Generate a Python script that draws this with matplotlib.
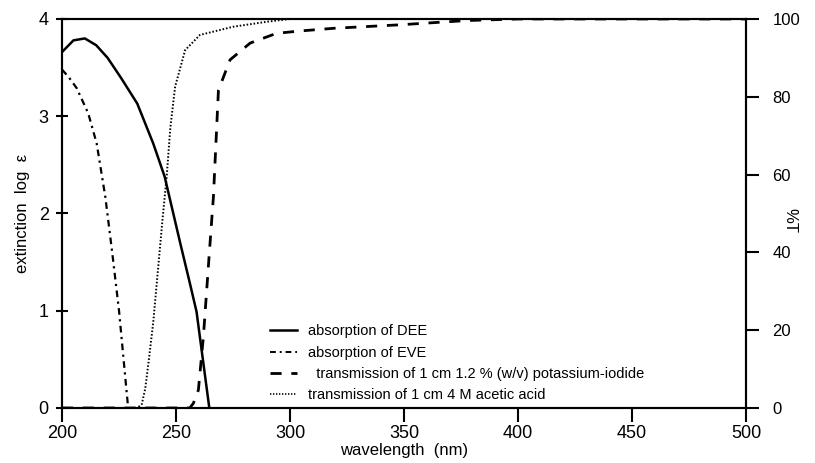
import matplotlib.pyplot as plt
from matplotlib.lines import Line2D

plt.rcParams['font.family'] = ['Liberation Sans', 'DejaVu Sans']

# absorption of DEE (log eps)
wl_dee = [200, 205, 210, 215, 220, 226, 233, 240, 245, 252, 256, 259, 264.6]
dee = [3.66, 3.78, 3.80, 3.73, 3.60, 3.39, 3.13, 2.72, 2.38, 1.68, 1.29, 0.99, 0.0]

# absorption of EVE (log eps)
wl_eve = [200, 203, 206.4, 211.5, 215.2, 219, 222, 225, 227, 229]
eve = [3.48, 3.40, 3.29, 3.03, 2.72, 2.17, 1.6, 1.0, 0.5, 0.0]

# transmission of 1.2 % KI (%T)
wl_ki = [200, 250, 256, 257.6, 259.8, 262, 264.6, 266.4, 268.6, 273.7, 282.5, 294, 304, 319, 348, 377.5, 400, 450, 500]
ki = [0, 0, 0, 1.2, 4.6, 18.3, 39.8, 54.3, 81.7, 89.5, 93.8, 96.3, 96.9, 97.6, 98.5, 99.6, 100, 100, 100]

# transmission of 4 M acetic acid (%T)
wl_ac = [200, 233, 235, 236.5, 238, 240, 242, 244, 245.9, 247.5, 249.6, 254, 260.5, 275, 290, 300, 500]
ac = [0, 0, 1, 5, 12, 22, 35, 48, 59.5, 72, 82.6, 92, 95.9, 98, 99.3, 100, 100]

labels = ["absorption of DEE", "absorption of EVE",
          "  transmission of 1 cm 1.2 % (w/v) potassium-iodide",
          "transmission of 1 cm 4 M acetic acid"]

fig = plt.figure(figsize=(8.15, 4.63), dpi=100)
ax = fig.add_axes([0.0761, 0.1188, 0.8393, 0.8402])
ax2 = ax.twinx()

ax.plot(wl_dee, dee, color='black', lw=1.8, ls='-')
ax.plot(wl_eve, eve, color='black', lw=1.6, ls=(0, (3, 2, 1, 2)))
ax2.plot(wl_ki, ki, color='black', lw=2.0, ls=(0, (4, 3.5)))
ax2.plot(wl_ac, ac, color='black', lw=1.4, ls=(0, (0.8, 1)))

ax.set_xlim(200, 500)
ax.set_ylim(0, 4)
ax2.set_ylim(0, 100)
ax.set_xticks(range(200, 501, 50))
ax.set_yticks(range(0, 5))
ax2.set_yticks(range(0, 101, 20))

for a in (ax, ax2):
    for s in a.spines.values():
        s.set_linewidth(1.5)

ax.tick_params(axis='x', direction='out', length=10, width=1.5, labelsize=13, pad=2)
ax.tick_params(axis='y', direction='inout', length=9, width=1.5, labelsize=13, pad=5)
ax2.tick_params(axis='y', direction='out', length=9, width=1.5, labelsize=12, pad=10)

ax.set_xlabel("wavelength  (nm)", fontsize=12, labelpad=1)
ax.set_ylabel("extinction  log  ε", fontsize=12, labelpad=6)
ax2.set_ylabel("%T", fontsize=12, rotation=-90, va='center')
ax2.yaxis.set_label_coords(1.064, 0.483)

handles = [Line2D([], [], color='black', lw=1.8, ls='-'),
           Line2D([], [], color='black', lw=1.4, ls=(0, (3, 2, 1, 2))),
           Line2D([], [], color='black', lw=2.0, ls=(0, (4, 3.5))),
           Line2D([], [], color='black', lw=1.2, ls=(0, (0.8, 1)))]
ax.legend(handles, labels, loc='lower left', bbox_to_anchor=(0.293, -0.004),
          frameon=False, fontsize=10.5, handlelength=1.9, handletextpad=0.7,
          labelspacing=0.5, borderpad=0.0)

fig.savefig("out.png", dpi=100)
